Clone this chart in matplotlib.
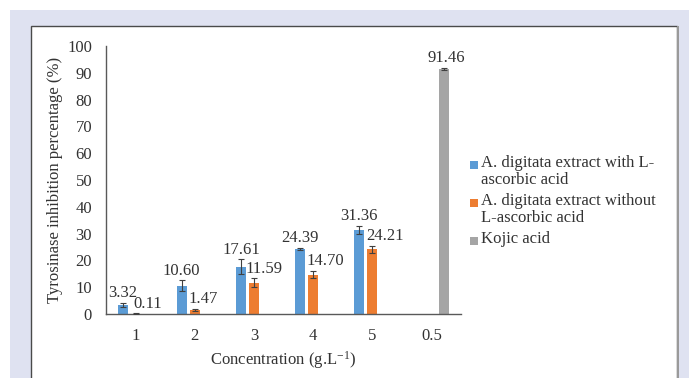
import matplotlib
matplotlib.use("Agg")
import matplotlib.pyplot as plt
from matplotlib.patches import Rectangle
import numpy as np

# data
categories = ["1", "2", "3", "4", "5", "0.5"]
with_acid = [3.32, 10.60, 17.61, 24.39, 31.36, None]
with_acid_err = [0.8, 2.0, 2.8, 0.4, 1.5, None]
without_acid = [0.11, 1.47, 11.59, 14.70, 24.21, None]
without_acid_err = [0.1, 0.4, 1.7, 1.3, 1.3, None]
kojic = [None, None, None, None, None, 91.46]
kojic_err = [None, None, None, None, None, 0.5]
series_names = ["A. digitata extract with L-\nascorbic acid",
                "A. digitata extract without\nL-ascorbic acid",
                "Kojic acid"]

BLUE = "#5b9bd5"
ORANGE = "#ed7d31"
GRAY = "#a5a5a5"
TEXT = "#333333"
AXIS = "#595959"
LAVENDER = "#dfe2f1"
FS = 12

plt.rcParams["font.family"] = ["Liberation Serif", "DejaVu Serif"]
plt.rcParams["mathtext.default"] = "regular"
plt.rcParams["font.size"] = FS

W, H = 689, 378
fig = plt.figure(figsize=(W / 100, H / 100), dpi=100, facecolor="white")

# page background + framed white panel
fig.patches.append(Rectangle((10 / W, 0), 679 / W, 368 / H, transform=fig.transFigure,
                             facecolor=LAVENDER, edgecolor="none", zorder=-3))
fig.patches.append(Rectangle((31 / W, -0.05), 646 / W, (352 / H) + 0.05, transform=fig.transFigure,
                             facecolor="white", edgecolor="#4a4a4a", linewidth=1.0, zorder=-2))
fig.patches.append(Rectangle((677 / W, -0.05), 2 / W, (352 / H) + 0.05, transform=fig.transFigure,
                             facecolor="#9a9a9a", edgecolor="none", zorder=-2))

ax = fig.add_axes([106 / W, 1 - 314 / H, 355 / W, 268 / H])
ax.set_facecolor("none")

x = np.arange(len(categories))
width = 0.17
offset = 0.22
series = [
    (with_acid, with_acid_err, BLUE, -offset),
    (without_acid, without_acid_err, ORANGE, 0.0),
    (kojic, kojic_err, GRAY, offset),
]
# horizontal nudges of value labels (points), as placed in the reference
label_dx = [
    [0, 0, 0, 0, 0, 0],
    [9, 6, 7, 9, 9, 0],
    [0, 0, 0, 0, 0, 1],
]

for (vals, errs, color, off), dxs in zip(series, label_dx):
    for i, (v, e) in enumerate(zip(vals, errs)):
        if v is None:
            continue
        ax.bar(x[i] + off, v, width=width, color=color, zorder=2)
        ax.errorbar(x[i] + off, v, yerr=e, fmt="none", ecolor="#404040",
                    elinewidth=0.8, capsize=2.5, capthick=0.8, zorder=3)
        ax.annotate(f"{v:.2f}", (x[i] + off, v + e), xytext=(dxs[i], 7),
                    textcoords="offset points", ha="center", va="center",
                    color=TEXT, fontsize=FS)

ax.set_xlim(-0.5, len(categories) - 0.5)
ax.set_ylim(0, 100)
ax.set_yticks(np.arange(0, 101, 10))
ax.set_xticks(x)
ax.set_xticklabels(categories)
ax.tick_params(axis="both", length=0, colors=TEXT, labelsize=FS)
ax.tick_params(axis="y", pad=10)
ax.tick_params(axis="x", pad=10)
for side in ["top", "right"]:
    ax.spines[side].set_visible(False)
for side in ["left", "bottom"]:
    ax.spines[side].set_color(AXIS)
    ax.spines[side].set_linewidth(1.0)

ax.set_ylabel("Tyrosinase inhibition percentage (%)", color=TEXT, fontsize=FS, labelpad=3)
ax.set_xlabel("Concentration (g.L$^{-1}$)", color=TEXT, fontsize=FS, labelpad=4)

# legend drawn by hand so the swatch sits on the first line like Excel
legend_colors = [BLUE, ORANGE, GRAY]
line_h = 18.5
ypix = 165
for name, color in zip(series_names, legend_colors):
    fig.patches.append(Rectangle((470 / W, 1 - (ypix + 4) / H), 8 / W, 8 / H,
                                 transform=fig.transFigure, facecolor=color, edgecolor="none"))
    fig.text(481 / W, 1 - (ypix - 10) / H, name, ha="left", va="top", color=TEXT,
             fontsize=FS, linespacing=1.05)
    ypix += line_h * (name.count("\n") + 1) + 1

fig.savefig("out.png", dpi=100, facecolor="white")
